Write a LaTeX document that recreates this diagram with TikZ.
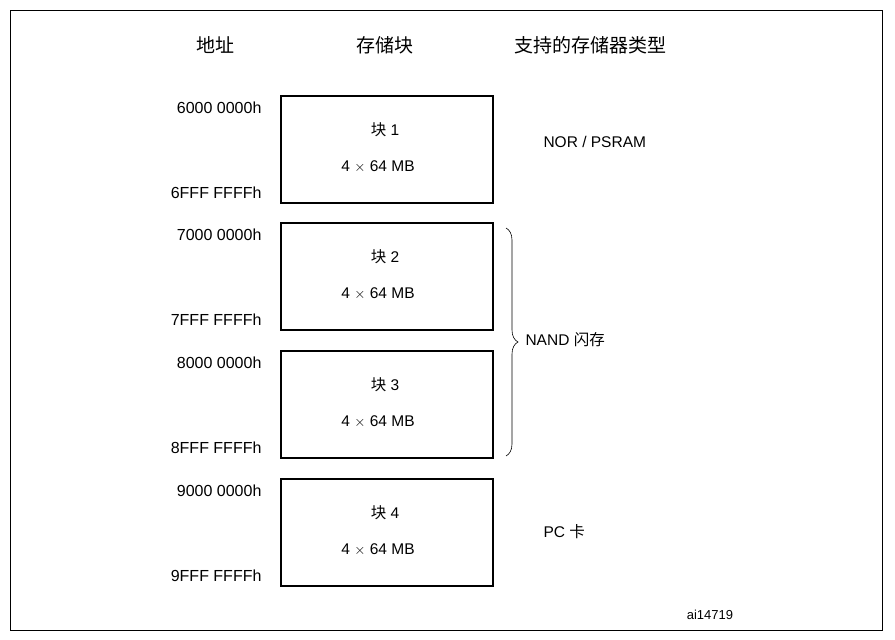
\documentclass[tikz,border=0pt]{standalone}
\usepackage{fontspec}
\setmainfont{Liberation Sans}
\newfontfamily\cjk{Noto Sans CJK SC}
\usetikzlibrary{decorations.pathreplacing}
\begin{document}
\begin{tikzpicture}[x=1pt,y=-1pt,
  blk/.style={draw,line width=2pt,minimum width=212pt,minimum height=107pt,anchor=north west},
  addr/.style={anchor=east,font=\fontsize{16}{18}\selectfont},
  hdr/.style={font=\cjk\fontsize{19}{22}\selectfont},
  lbl/.style={font=\fontsize{15.5}{18}\selectfont}]
\useasboundingbox (0,0) rectangle (895,640);
\node[draw,line width=0.8pt,minimum width=872pt,minimum height=620pt,anchor=north west] (frame) at (10,10) {};
\node[hdr] (h1) at (215,45) {地址};
\node[hdr] (h2) at (385,45) {存储块};
\node[hdr] (h3) at (590,45) {支持的存储器类型};
\foreach \i/\y/\a/\b in {1/95/6000 0000h/6FFF FFFFh,2/222/7000 0000h/7FFF FFFFh,3/350/8000 0000h/8FFF FFFFh,4/478/9000 0000h/9FFF FFFFh}{
  \node[blk] (b\i) at (280,\y) {};
  \node[lbl] (t\i) at (385,\y+35) {{\cjk 块} \i};
  \node[lbl] (s\i) at (378,\y+72) {4 $\times$ 64 MB};
  \node[addr] (a\i) at (265,\y+13) {\a};
  \node[addr] (e\i) at (265,\y+98) {\b};
}
\node[lbl,anchor=west] (m1) at (540,142) {NOR / PSRAM};
\node[lbl,anchor=west] (m2) at (522,340) {NAND {\cjk 闪存}};
\node[lbl,anchor=west] (m3) at (540,532) {PC {\cjk 卡}};
\coordinate (bt) at (506,228);
\coordinate (bb) at (506,456);
\draw[decorate,decoration={brace,amplitude=12pt},line width=0.6pt] (bt) -- (bb);
\node[font=\fontsize{13}{15}\selectfont] (id) at (710,615) {ai14719};
\end{tikzpicture}
\end{document}
